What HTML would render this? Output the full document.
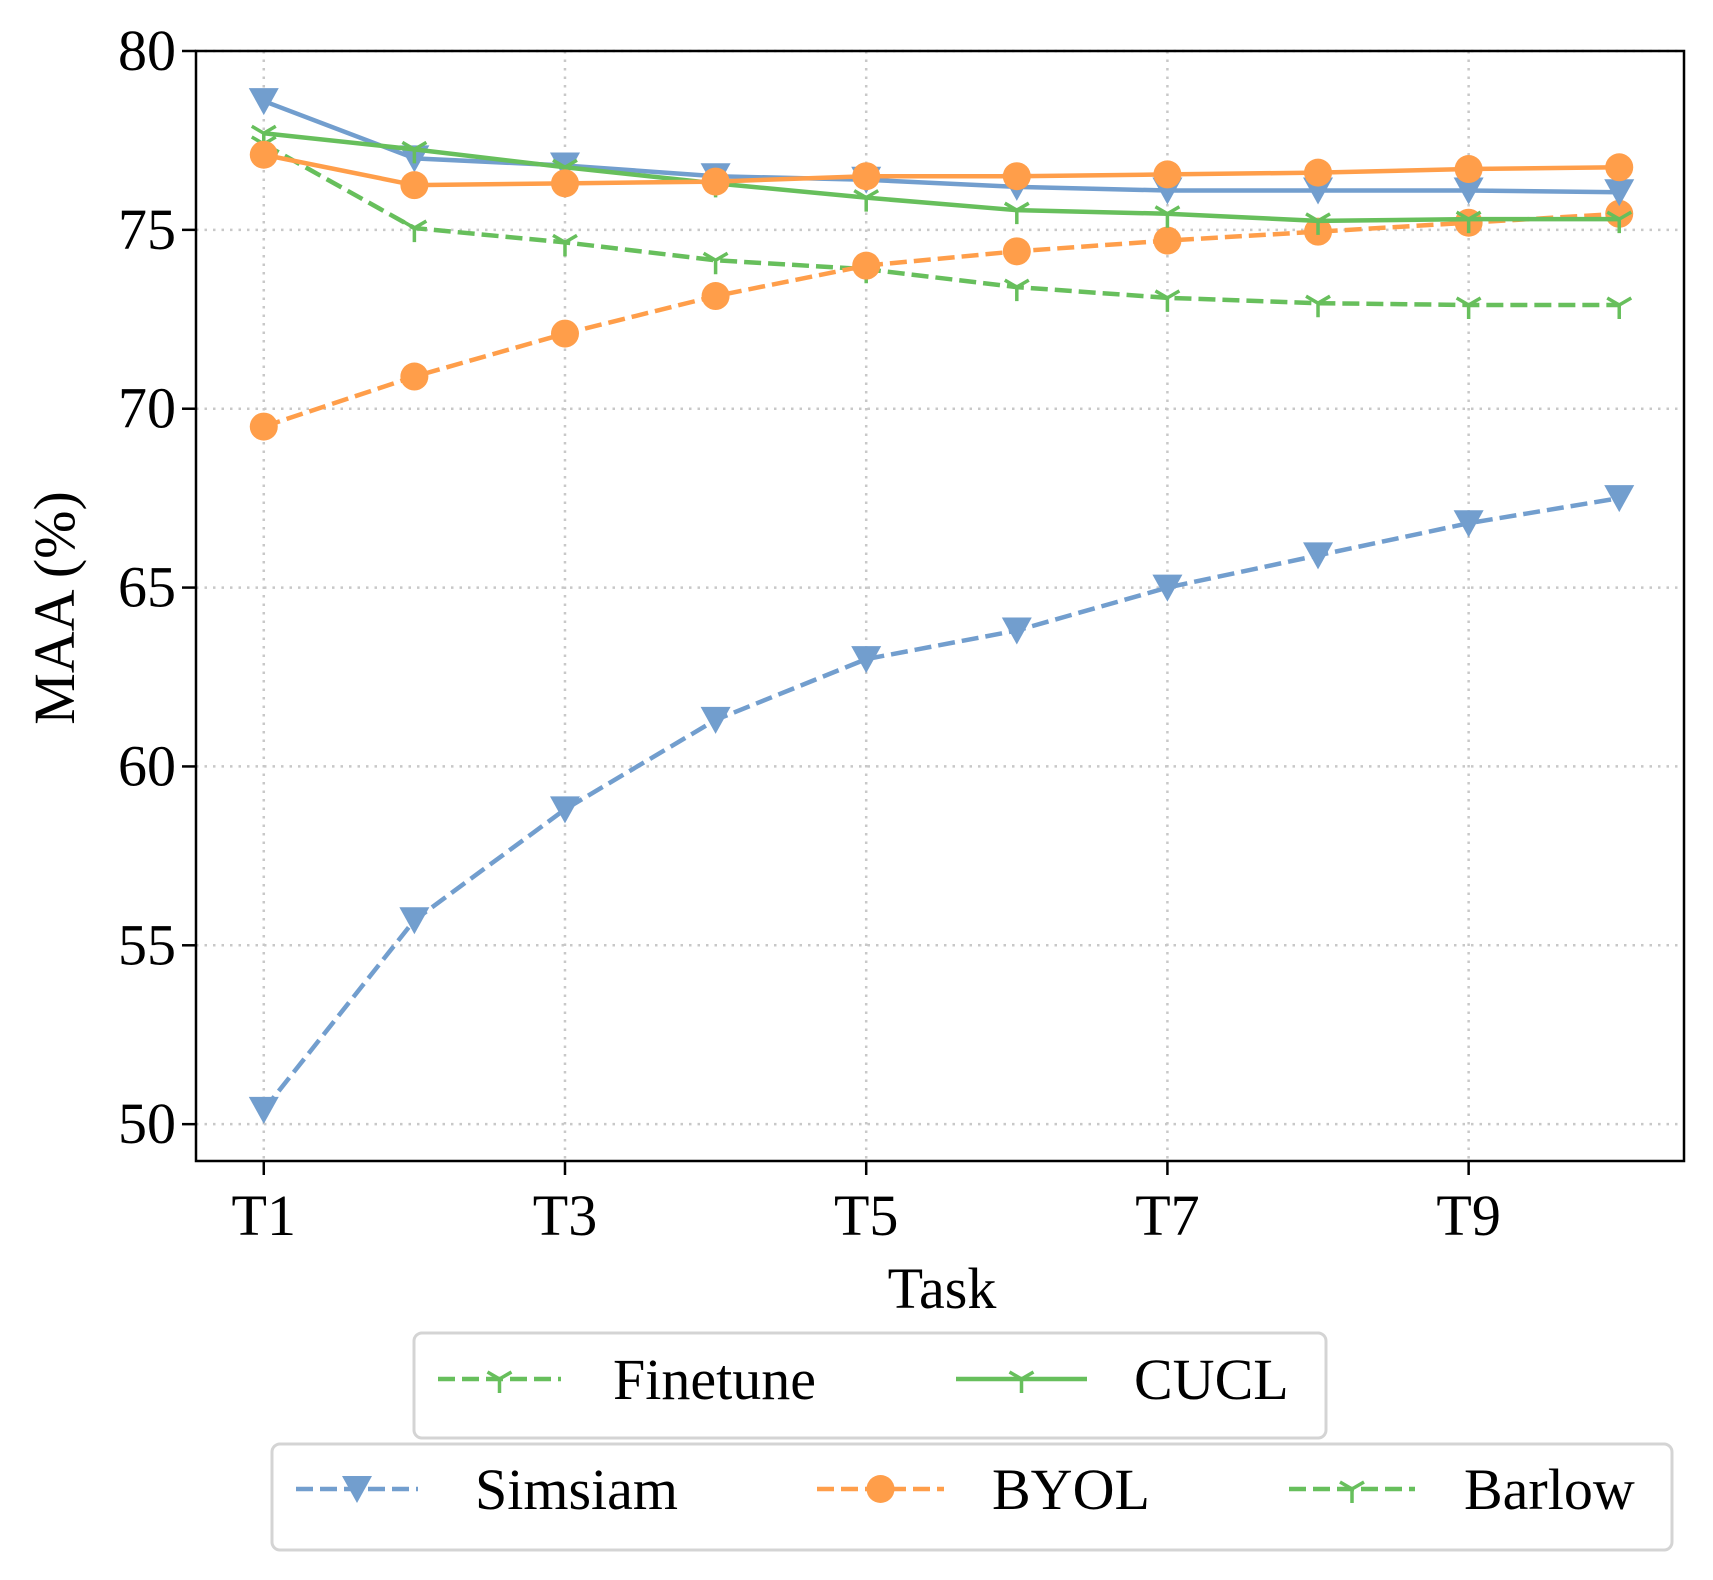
<!DOCTYPE html>
<html><head><meta charset="utf-8">
<style>
body{margin:0;background:#fff;}
svg{display:block;font-family:"Liberation Serif",serif;}
</style></head>
<body>
<svg id="chart" width="1713" height="1580" viewBox="0 0 1713 1580">
<g id="grid"></g>
<g id="series"></g>
<rect x="196" y="51" width="1488" height="1110" fill="none" stroke="#000" stroke-width="2.5"/>
<g id="axes"></g>
<text x="942" y="1308" font-size="58" text-anchor="middle">Task</text>
<text transform="translate(74,608) rotate(-90)" font-size="58" text-anchor="middle">MAA (%)</text>
<g>
<rect x="414" y="1333" width="912" height="105" rx="8" fill="#fff" stroke="#d4d4d4" stroke-width="3"/>
<g id="leg1"></g>
</g>
<g>
<rect x="272" y="1444" width="1400" height="106" rx="8" fill="#fff" stroke="#d4d4d4" stroke-width="3"/>
<g id="leg2"></g>
</g>
</svg>
<script>
const categories = ["T1","T2","T3","T4","T5","T6","T7","T8","T9","T10"];
const xTickLabels = ["T1","T3","T5","T7","T9"];
const yTicks = [50,55,60,65,70,75,80];
const simsiamDashed = [50.4,55.7,58.8,61.3,63.0,63.8,65.0,65.9,66.8,67.5];
const simsiamSolid = [78.6,77.0,76.8,76.5,76.4,76.2,76.1,76.1,76.1,76.05];
const byolDashed = [69.5,70.9,72.1,73.15,74.0,74.4,74.7,74.95,75.2,75.45];
const byolSolid = [77.1,76.25,76.3,76.35,76.5,76.5,76.55,76.6,76.7,76.75];
const barlowDashed = [77.4,75.05,74.65,74.15,73.9,73.4,73.1,72.95,72.9,72.9];
const cuclSolid = [77.7,77.25,76.75,76.3,75.9,75.55,75.45,75.25,75.3,75.3];

const NS="http://www.w3.org/2000/svg";
const BLUE="#729ECE",ORANGE="#FF9E4A",GREEN="#67BF5C";
const X0=196,X1=1684,Y0=51,Y1=1161;
const xmin=-0.45,xmax=9.43,ymin=48.97,ymax=80;
function xs(i){return X0+(i-xmin)/(xmax-xmin)*(X1-X0);}
function ys(v){return Y1-(v-ymin)/(ymax-ymin)*(Y1-Y0);}
function mk(tag,attrs,parent){const e=document.createElementNS(NS,tag);for(const k in attrs)e.setAttribute(k,attrs[k]);parent.appendChild(e);return e;}
const grid=document.getElementById('grid'),axes=document.getElementById('axes'),ser=document.getElementById('series');
yTicks.forEach(v=>{
  const y=ys(v);
  const g=mk('line',{x1:X0,x2:X1,y1:y,y2:y,stroke:"#c8c8c8","stroke-width":2.5,"stroke-dasharray":"2.5 6"},grid);
  
  
  const t=mk('line',{x1:X0-14,x2:X0,y1:y,y2:y,stroke:"#000","stroke-width":2.5},axes);
  
  
  const l=mk('text',{x:X0-20,y:y+19,"font-size":58,"text-anchor":"end"},axes);
  l.textContent=v;
  
  
});
xTickLabels.forEach(lbl=>{
  const i=categories.indexOf(lbl);const x=xs(i);
  const g=mk('line',{x1:x,x2:x,y1:Y0,y2:Y1,stroke:"#c8c8c8","stroke-width":2.5,"stroke-dasharray":"2.5 6"},grid);
  
  
  const t=mk('line',{x1:x,x2:x,y1:Y1,y2:Y1+14,stroke:"#000","stroke-width":2.5},axes);
  
  
  const l=mk('text',{x:x,y:1235,"font-size":58,"text-anchor":"middle"},axes);
  l.textContent=lbl;
  
  
});
function marker(type,x,y,color,parent){
  let e;
  if(type==='tri'){e=mk('polygon',{points:`${x-15},${y-13} ${x+15},${y-13} ${x},${y+14}`,fill:color},parent);}
  else if(type==='circle'){e=mk('circle',{cx:x,cy:y,r:14,fill:color},parent);}
  else {e=mk('path',{d:`M${x},${y} L${x},${y+14} M${x},${y} L${x-12},${y-7} M${x},${y} L${x+12},${y-7}`,stroke:color,"stroke-width":3.5,fill:"none"},parent);}
  return e;
}
function drawSeries(vals,color,dashed,mtype,name){
  const g=mk('g',{},ser);
  
  
  const pts=vals.map((v,i)=>xs(i)+","+ys(v)).join(" ");
  const a={points:pts,fill:"none",stroke:color,"stroke-width":4.5,"stroke-linejoin":"round"};
  if(dashed)a["stroke-dasharray"]="17 7";
  mk('polyline',a,g);
  vals.forEach((v,i)=>{
    const m=marker(mtype,xs(i),ys(v),color,g);
    
    
  });
}
drawSeries(simsiamDashed,BLUE,true,'tri','simsiam-line');
drawSeries(barlowDashed,GREEN,true,'y','barlow-line');
drawSeries(byolDashed,ORANGE,true,'circle','byol-line');
drawSeries(simsiamSolid,BLUE,false,'tri','cucl-simsiam-line');
drawSeries(cuclSolid,GREEN,false,'y','cucl-line');
drawSeries(byolSolid,ORANGE,false,'circle','cucl-byol-line');

function legendEntry(parent,x1,x2,tx,y,color,dashed,mtype,label,name){
  const g=mk('g',{},parent);
  
  
  const a={x1:x1,x2:x2,y1:y,y2:y,stroke:color,"stroke-width":4.5};
  if(dashed)a["stroke-dasharray"]="17 7";
  mk('line',a,g);
  marker(mtype,(x1+x2)/2,y,color,g);
  const t=mk('text',{x:tx,y:y+20,"font-size":58},g);
  t.textContent=label;
}
const leg1=document.getElementById('leg1'),leg2=document.getElementById('leg2');
legendEntry(leg1,438,561,613,1379,GREEN,true,'y','Finetune','legend-finetune');
legendEntry(leg1,956,1087,1134,1379,GREEN,false,'y','CUCL','legend-cucl');
legendEntry(leg2,296,418,475,1489,BLUE,true,'tri','Simsiam','legend-simsiam');
legendEntry(leg2,817,944,992,1489,ORANGE,true,'circle','BYOL','legend-byol');
legendEntry(leg2,1289,1415,1464,1489,GREEN,true,'y','Barlow','legend-barlow');
</script>
</body></html>
